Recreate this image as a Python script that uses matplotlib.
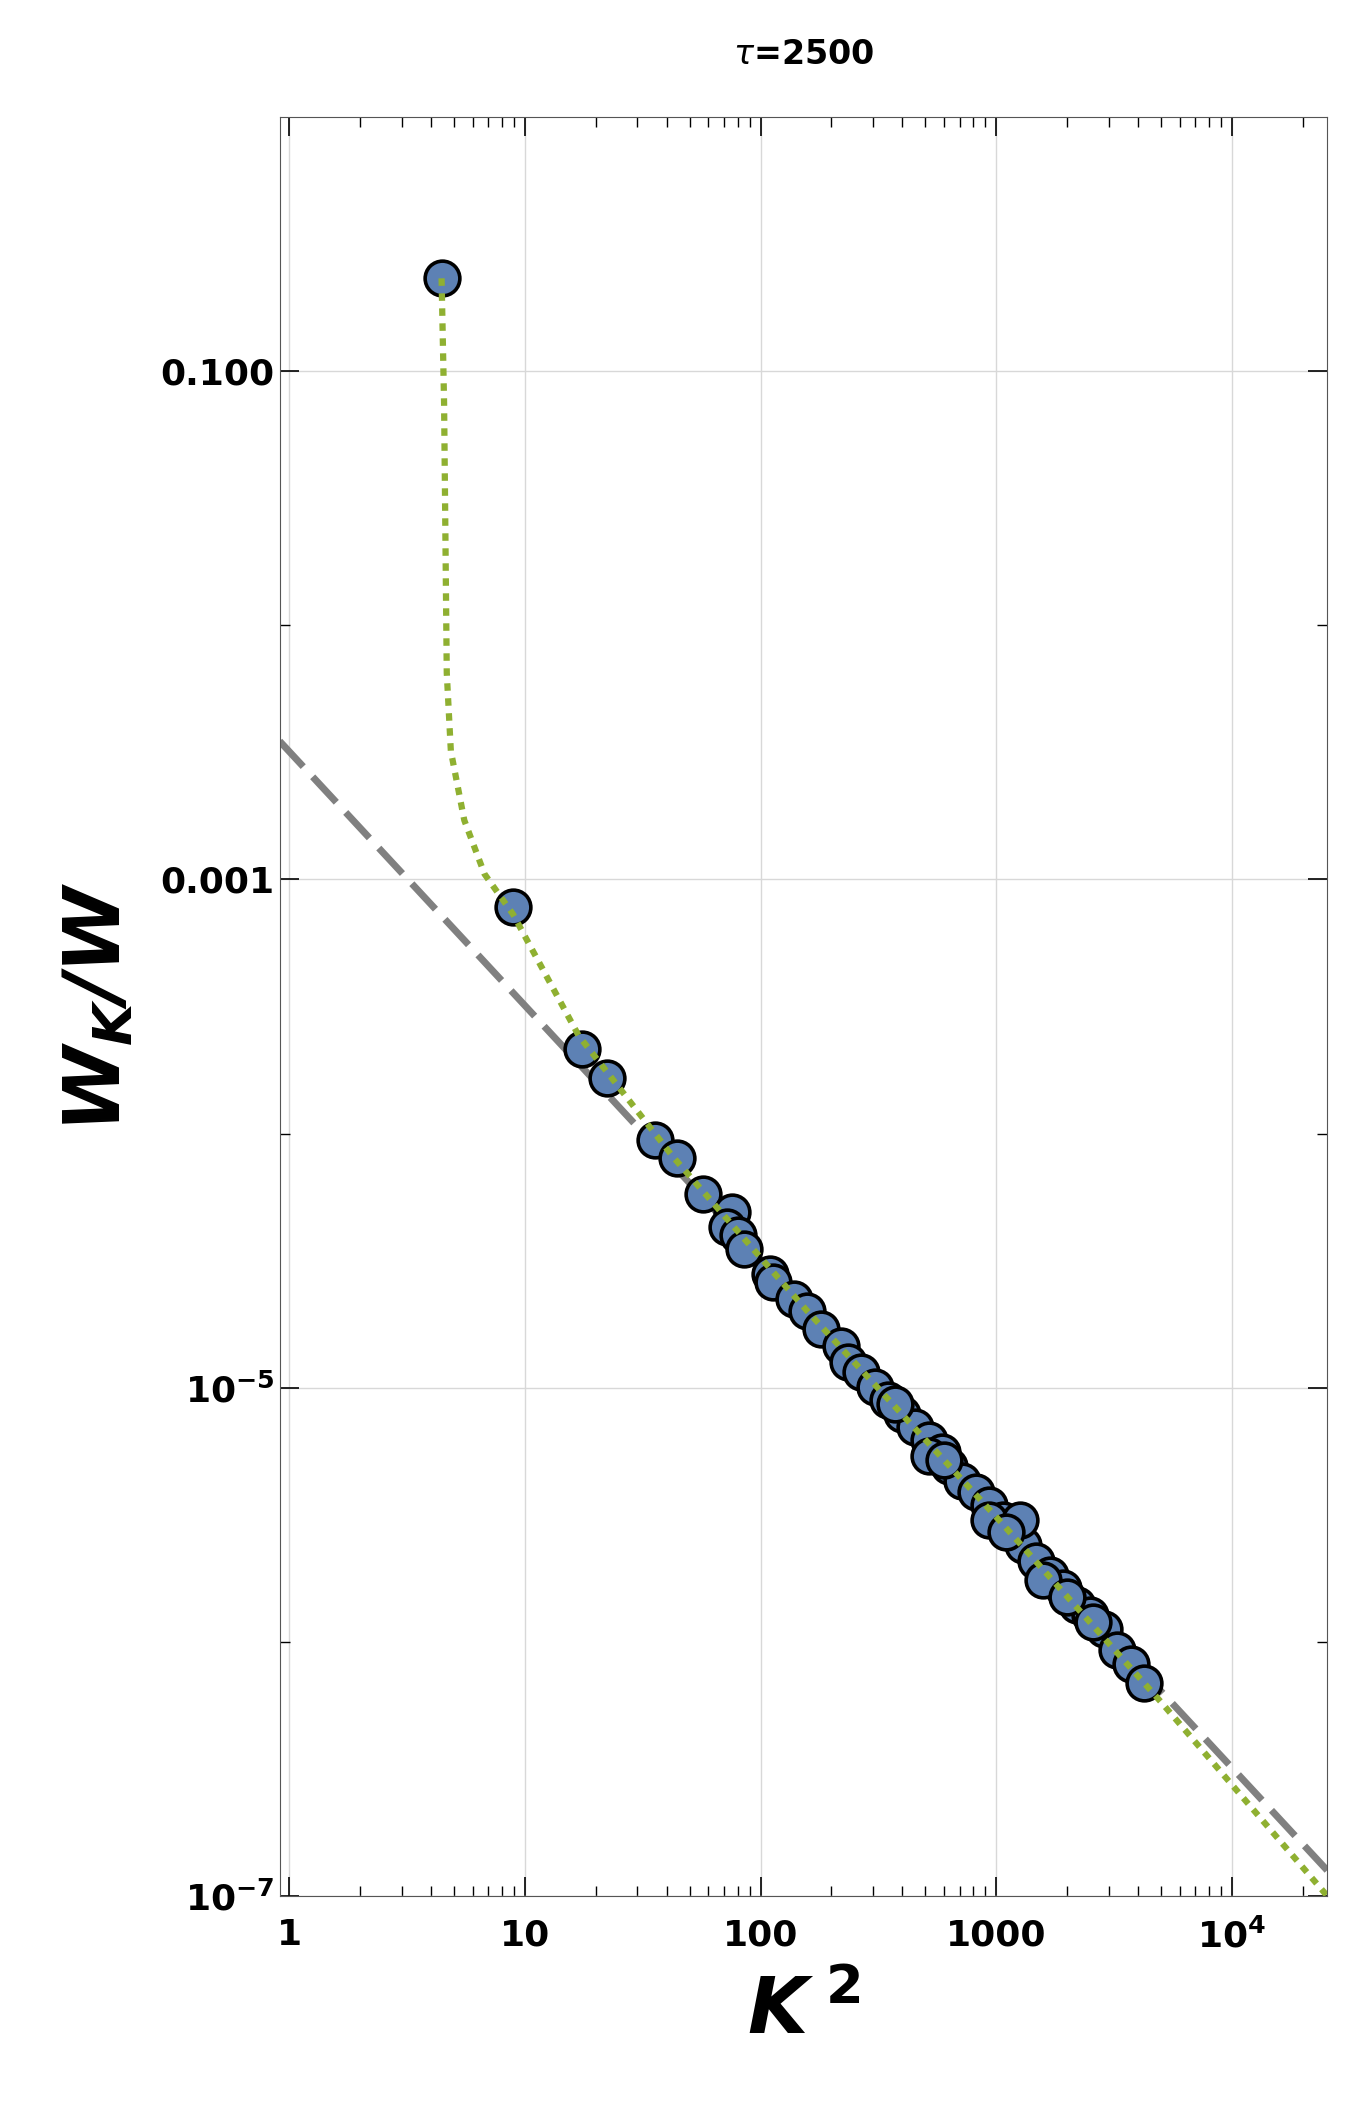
import matplotlib
matplotlib.use('Agg')
import matplotlib.pyplot as plt
from matplotlib.ticker import NullFormatter, LogLocator

# scatter data
k2 = [4.43, 8.9, 17.4, 22.3, 35.8, 44.2, 56.8, 75.9, 72, 80, 85, 110, 113, 139, 158, 181,
      220, 235, 268, 306, 349, 398, 454, 518, 590, 630, 719, 820, 936, 1070, 1218, 1300,
      1480, 1690, 1930, 2200, 2510, 2860, 3270, 3730, 4250,
      371, 518, 936, 1260, 1580, 2580, 600, 1100, 2000]
wk = [0.232, 7.8e-4, 2.16e-4, 1.66e-4, 9.4e-5, 8.0e-5, 5.8e-5, 4.9e-5, 4.3e-5, 4.0e-5,
      3.5e-5, 2.8e-5, 2.6e-5, 2.24e-5, 2.0e-5, 1.7e-5, 1.46e-5, 1.26e-5, 1.15e-5, 1.01e-5,
      8.9e-6, 7.9e-6, 7.0e-6, 6.2e-6, 5.6e-6, 4.9e-6, 4.3e-6, 3.9e-6, 3.45e-6, 3.0e-6,
      2.65e-6, 2.4e-6, 2.08e-6, 1.83e-6, 1.62e-6, 1.4e-6, 1.27e-6, 1.12e-6, 9.3e-7, 8.2e-7,
      6.9e-7, 8.6e-6, 5.4e-6, 3.0e-6, 3.0e-6, 1.75e-6, 1.2e-6, 5.2e-6, 2.7e-6, 1.5e-6]

# power-law guide (gray dashed)
line_x = [0.91, 25400]
line_y = [3.5e-3, 1.26e-7]

# fit curve (green dotted)
fit_x = [4.43, 4.54, 4.6, 4.66, 4.85, 5.53, 6.74, 8.9, 16.9, 42.5, 100, 158, 1000, 5000, 25400]
fit_y = [0.232, 0.0746, 0.022, 0.0065, 3.2e-3, 1.71e-3, 1.05e-3, 7.3e-4, 2.43e-4, 8.1e-5,
         3.25e-5, 2.0e-5, 3.1e-6, 5.8e-7, 1.0e-7]

fig = plt.figure(figsize=(13.64, 21.10), dpi=100)
ax = fig.add_axes([0.205, 0.1015, 0.768, 0.843])
ax.set_xscale('log')
ax.set_yscale('log')
ax.set_xlim(0.91, 25400)
ax.set_ylim(1e-7, 1.0)

ax.plot(line_x, line_y, color='#808080', ls=(0, (5, 2)), lw=5, zorder=2)
ax.plot(fit_x, fit_y, color='#8fb031', ls=(0, (1.2, 1.2)), lw=4.5, zorder=4)
ax.plot(k2, wk, 'o', ms=25, mfc='#5d81b4', mec='black', mew=2.6, zorder=3)

ax.set_yticks([1e-7, 1e-5, 1e-3, 1e-1])
ax.set_yticklabels([r'$\mathbf{10^{-7}}$', r'$\mathbf{10^{-5}}$', '0.001', '0.100'])
ax.set_yticks([1e-6, 1e-4, 1e-2], minor=True)
ax.yaxis.set_minor_formatter(NullFormatter())
ax.set_xticks([1, 10, 100, 1000, 1e4])
ax.set_xticklabels(['1', '10', '100', '1000', r'$\mathbf{10^4}$'])
ax.xaxis.set_minor_locator(LogLocator(base=10, subs=range(2, 10)))
ax.xaxis.set_minor_formatter(NullFormatter())

ax.grid(True, which='major', color='#d8d8d8', lw=1)
ax.tick_params(which='both', direction='in', top=True, right=True, labelsize=26)
ax.tick_params(which='major', length=14, width=1.2)
ax.tick_params(which='minor', length=7, width=1)
for lab in ax.get_xticklabels() + ax.get_yticklabels():
    lab.set_fontweight('bold')
ax.tick_params(axis='x', pad=16)
for s in ax.spines.values():
    s.set_color('#555555')

ax.set_xlabel(r'$\mathbfit{K}^{\mathbf{\ 2}}$', fontsize=56, labelpad=14)
ax.set_ylabel(r'$\mathbfit{W_K/W}$', fontsize=56, labelpad=18)
ax.set_title(r'$\tau$=2500', fontsize=24, fontweight='bold', pad=38)

fig.savefig('out.png')
